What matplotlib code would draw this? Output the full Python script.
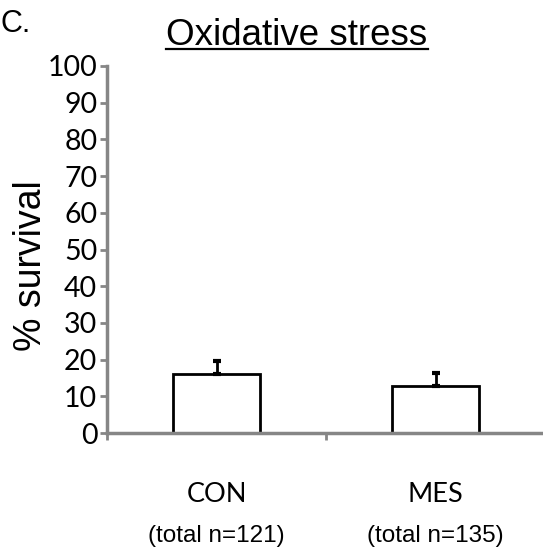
import numpy as np
import matplotlib.pyplot as plt

categories = ['CON', 'MES']
totals = ['(total n=121)', '(total n=135)']
survival = [16.1, 12.9]
sem = [3.5, 3.4]
yticks = [0, 10, 20, 30, 40, 50, 60, 70, 80, 90, 100]

W, H = 543, 554
fig = plt.figure(figsize=(W / 100, H / 100), dpi=100)
# axes: x from 107 to 545 px, y from 433 (0) to 66 (100)
ax = fig.add_axes([107 / W, 1 - 433 / H, (545 - 107) / W, (433 - 66) / H])

grey = '#868686'
x = np.arange(len(categories))
ax.bar(x, survival, width=0.4, color='white', edgecolor='black', linewidth=2, zorder=2)
ax.errorbar(x, survival, yerr=[[0, 0], sem], fmt='none', ecolor='black',
            elinewidth=2, capsize=2.8, capthick=3, zorder=3)

ax.set_xlim(-0.5, 1.5)
ax.set_ylim(0, 100)
ax.set_yticks(yticks)
ax.set_yticklabels([str(v) for v in yticks], fontfamily='Lato', fontsize=20.5)
ax.set_xticks([-0.5, 0.5])
ax.set_xticklabels([])
ax.tick_params(axis='both', direction='out', color=grey, width=2, length=5, pad=2)

for s in ['top', 'right']:
    ax.spines[s].set_visible(False)
for s in ['left', 'bottom']:
    ax.spines[s].set_color(grey)
    ax.spines[s].set_linewidth(2.5)
ax.patch.set_alpha(0)

for xi, c, t in zip(x, categories, totals):
    ax.annotate(c, xy=(xi, 0), xycoords=('data', 'axes fraction'), xytext=(0, -62),
                textcoords='offset pixels', ha='center', va='center',
                fontfamily='Lato', fontsize=19.5)
    ax.annotate(t, xy=(xi, 0), xycoords=('data', 'axes fraction'), xytext=(0, -103),
                textcoords='offset pixels', ha='center', va='center',
                fontfamily='Liberation Sans', fontsize=17.5)

fig.text(31 / W, 1 - 266 / H, '% survival', rotation=90, ha='center', va='center',
         fontfamily='Liberation Sans', fontsize=27)

t = fig.text(297 / W, 1 - 45 / H, 'Oxidative stress', ha='center', va='baseline',
             fontfamily='Liberation Sans', fontsize=26.5)
fig.canvas.draw()
bb = t.get_window_extent()
uy = 1 - 48.5 / H
fig.add_artist(plt.Line2D([bb.x0 / W, bb.x1 / W], [uy, uy], color='black', linewidth=1.6))

fig.text(1 / W, 1 - 32 / H, 'C.', ha='left', va='baseline',
         fontfamily='Liberation Sans', fontsize=22)

fig.savefig('out.png', dpi=100)
